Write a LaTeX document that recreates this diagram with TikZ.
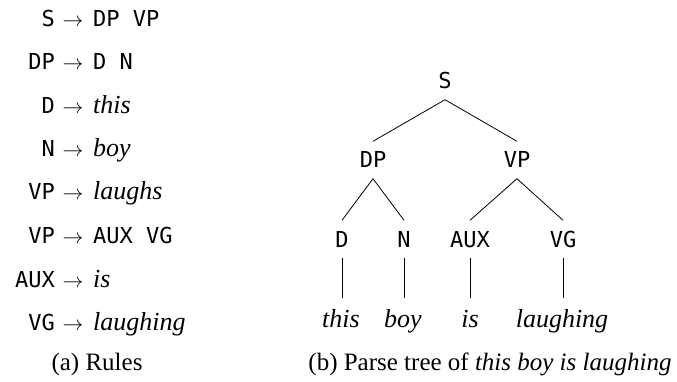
\documentclass[tikz,border=0pt]{standalone}
\usepackage{fontspec}
\setmainfont{Liberation Serif}
\setmonofont{DejaVu Sans Mono}
\begin{document}
\begin{tikzpicture}[x=1pt,y=-1pt,
  cat/.style={font=\fontsize{22}{26}\selectfont\ttfamily, inner sep=0pt, anchor=base},
  word/.style={font=\fontsize{26}{30}\selectfont\itshape, inner sep=0pt, anchor=base},
  arr/.style={font=\fontsize{22}{26}\selectfont, inner sep=0pt, anchor=base},
  tcat/.style={cat, text height=16pt, text depth=0pt, inner ysep=10.5pt},
  tword/.style={word, text height=17pt, text depth=5pt, inner ysep=12pt},
  capt/.style={font=\fontsize{25}{30}\selectfont, inner sep=0pt, anchor=base},
  branch/.style={line width=0.8pt}]
\useasboundingbox (0,0) rectangle (677,382);

% ---- rules ----
\foreach \i/\l/\r/\y in {
  1/S/{\texttt{DP VP}}/27,
  2/DP/{\texttt{D N}}/70,
  3/D/{\fontsize{26}{30}\selectfont\itshape this}/114,
  4/N/{\fontsize{26}{30}\selectfont\itshape boy}/157,
  5/VP/{\fontsize{26}{30}\selectfont\itshape laughs}/200,
  6/VP/{\texttt{AUX VG}}/243,
  7/AUX/{\fontsize{26}{30}\selectfont\itshape is}/287,
  8/VG/{\fontsize{26}{30}\selectfont\itshape laughing}/330} {
  \node[cat, anchor=base east] (lhs\i) at (55,\y) {\l};
  \node[arr] (arr\i) at (73,\y) {$\rightarrow$};
  \node[cat, anchor=base west, font=\fontsize{22}{26}\selectfont] (rhs\i) at (93,\y) {\r};
}
\node[capt] (capa) at (97,370) {(a) Rules};

% ---- parse tree ----
\node[tcat] (S)   at (445,89)  {S};
\node[tcat] (DP)  at (373,168) {DP};
\node[tcat] (VP)  at (517,168) {VP};
\node[tcat] (D)   at (342,247) {D};
\node[tcat] (N)   at (404,247) {N};
\node[tcat] (AUX) at (470,247) {AUX};
\node[tcat] (VG)  at (563,247) {VG};
\node[tword] (w1) at (341,327) {this};
\node[tword] (w2) at (403,327) {boy};
\node[tword] (w3) at (470,327) {is};
\node[tword] (w4) at (562,327) {laughing};

\draw[branch] (S.south) -- (DP.north);
\draw[branch] (S.south) -- (VP.north);
\draw[branch] (DP.south) -- (D.north);
\draw[branch] (DP.south) -- (N.north);
\draw[branch] (VP.south) -- (AUX.north);
\draw[branch] (VP.south) -- (VG.north);
\draw[branch] (D.south) -- (D.south |- w1.north);
\draw[branch] (N.south) -- (N.south |- w2.north);
\draw[branch] (AUX.south) -- (AUX.south |- w3.north);
\draw[branch] (VG.south) -- (VG.south |- w4.north);

\node[capt] (capb) at (490,370) {(b) Parse tree of \textit{this boy is laughing}};
\end{tikzpicture}
\end{document}
